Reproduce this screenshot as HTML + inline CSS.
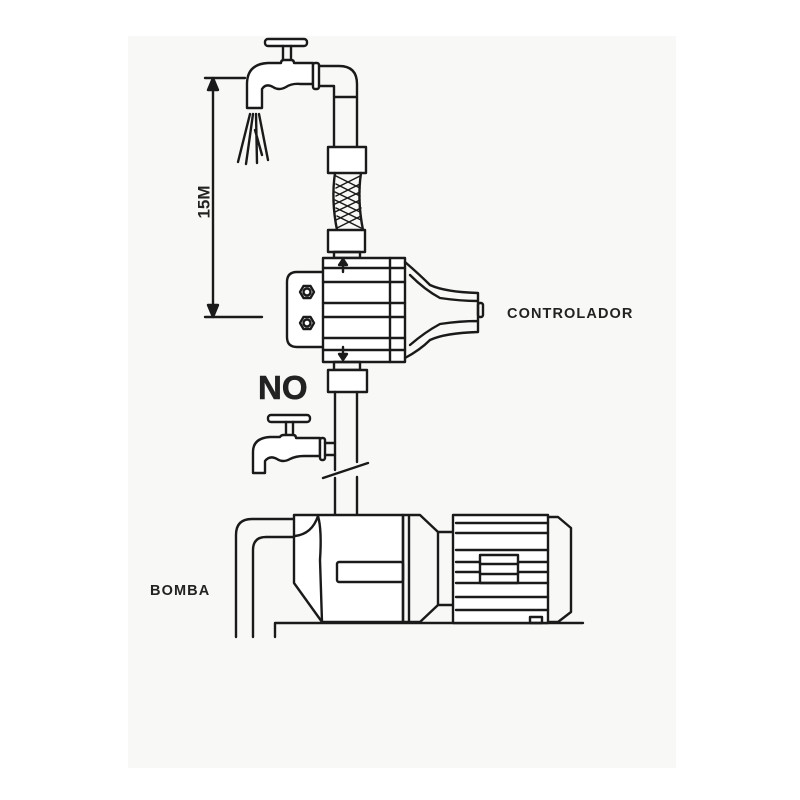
<!DOCTYPE html>
<html><head><meta charset="utf-8"><style>
html,body{margin:0;padding:0;background:#fff;}
svg{display:block}
text{font-family:"Liberation Sans",sans-serif;font-weight:bold;fill:#222}
</style></head><body>
<svg width="800" height="800" viewBox="0 0 800 800" xmlns="http://www.w3.org/2000/svg">
<rect x="0" y="0" width="800" height="800" fill="#fff"/>
<rect x="128" y="36" width="548" height="732" fill="#f8f8f6"/>
<g fill="none" stroke="#1a1a1a" stroke-width="2.4" stroke-linejoin="round" stroke-linecap="round">
<!-- top tap -->
<rect x="265" y="39" width="42" height="7" rx="3" fill="#fff"/>
<path d="M283 46 V61 M291 46 V61"/>
<path d="M247 108 V84 Q247 64 268 63 H281 Q281 60 284 60 H291 Q294 60 294 63 H313 V84 H301 Q292 83 286 87 Q279 91 273 87 Q266 83 262 89 V108 Z" fill="#fff"/>
<rect x="313" y="63" width="6" height="26" rx="2" fill="#fff"/>
<path d="M319 66 H339 Q357 66 357 84 V147 M319 86 H334 V147 M334 97 H357"/>
<!-- spray -->
<path d="M250 114 L238 162 M253 114 L246 164 M256 114 L257 163 M259 114 L268 160 M255 130 L262 155"/>
<!-- dimension -->
<path d="M205 78 H245 M205 317 H262 M213 86 V309"/>
<path d="M213 78 L208 90 H218 Z M213 317 L208 305 H218 Z" fill="#1a1a1a"/>
<!-- couplings and hose -->
<rect x="328" y="147" width="38" height="26" fill="#fff"/>
<path d="M335 173 Q331 200 337 230 M361 173 Q357 200 363 230" />
<path d="M336 176 L360 188 M336 184 L360 196 M335 192 L360 204 M335 200 L360 212 M336 208 L361 220 M337 216 L361 228 M360 176 L336 188 M360 184 L336 196 M360 192 L335 204 M360 200 L335 212 M361 208 L336 220 M361 216 L337 228" stroke-width="1.5"/>
<rect x="328" y="230" width="37" height="22" fill="#fff"/>
<rect x="334" y="252" width="26" height="6"/>
<!-- controller -->
<path d="M323 272 H297 Q287 272 287 282 V337 Q287 347 297 347 H323" fill="#fff"/>
<polygon points="300,292 303.5,286 310.5,286 314,292 310.5,298 303.5,298"/>
<circle cx="307" cy="292" r="3.5"/>
<polygon points="300,323 303.5,317 310.5,317 314,323 310.5,329 303.5,329"/>
<circle cx="307" cy="323" r="3.5"/>
<rect x="323" y="258" width="82" height="104" fill="#fff"/>
<path d="M390 258 V362 M323 268 H405 M323 282 H405 M323 303 H405 M323 317 H405 M323 338 H405 M323 350 H405"/>
<path d="M405 262 Q420 275 430 285 Q445 292 478 293 V332 Q445 333 430 340 Q420 350 405 358 M410 275 Q425 290 440 298 Q460 301 478 301 M410 345 Q425 332 440 324 Q460 321 478 321"/>
<rect x="478" y="303" width="5" height="14" rx="2"/>
<path d="M343 262 V272 M343 347 V357"/>
<path d="M343 259 L339 265 H347 Z M343 360 L339 354 H347 Z" fill="#1a1a1a"/>
<!-- lower coupling and pipe -->
<rect x="334" y="362" width="26" height="8"/>
<rect x="328" y="370" width="39" height="22" fill="#fff"/>
<path d="M335 392 V470 M357 392 V462 M335 478 V515 M357 477 V515 M323 478 L368 463"/>
<!-- lower tap -->
<rect x="268" y="415" width="42" height="7" rx="3" fill="#fff"/>
<path d="M286 422 V436 M293 422 V436"/>
<path d="M253 473 V452 Q253 438 270 437 H280 Q281 435 284 435 H293 Q296 435 296 438 H320 V456 H304 Q296 456 290 459 Q283 463 277 459 Q270 455 265 461 V473 Z" fill="#fff"/>
<rect x="320" y="438" width="5" height="22" rx="2" fill="#fff"/>
<path d="M325 443 H335 M325 455 H335"/>
<!-- pump inlet pipe -->
<path d="M236 637 V535 Q236 519 252 519 H294 M253 637 V550 Q253 537 266 537 H294"/>
<path d="M275 637 V623 H583"/>
<!-- pump housing -->
<path d="M294 515 H403 V622 H322 L294 583 Z" fill="#fff"/>
<path d="M295 536 Q312 534 318 516 M318 516 Q322 530 320 560 L322 622"/>
<rect x="337" y="562" width="66" height="20" rx="2"/>
<path d="M403 515 V622 M409 515 V622 M403 515 H420 L438 532 V605 L420 622 H403"/>
<path d="M438 532 H453 M438 605 H453"/>
<!-- motor -->
<rect x="453" y="515" width="95" height="108" fill="#fff"/>
<path d="M456 523 H548 M456 533 H548 M456 550 H548 M456 562 H480 M518 562 H548 M456 572 H480 M518 572 H548 M456 583 H548 M456 597 H548 M456 610 H548"/>
<rect x="480" y="555" width="38" height="28"/>
<path d="M480 564 H518 M480 574 H518"/>
<path d="M548 517 H558 L571 528 V612 L558 622 H548"/>
<rect x="530" y="617" width="12" height="6"/>
</g>
<text x="205" y="202" font-size="17" text-anchor="middle" dominant-baseline="middle" transform="rotate(-90 205 202)">15M</text>
<text x="507" y="318" font-size="14.5" letter-spacing="1.1">CONTROLADOR</text>
<text x="258" y="399" font-size="33" stroke="#222" stroke-width="0.6">NO</text>
<text x="150" y="595" font-size="14.5" letter-spacing="1.1">BOMBA</text>
</svg>
</body></html>
